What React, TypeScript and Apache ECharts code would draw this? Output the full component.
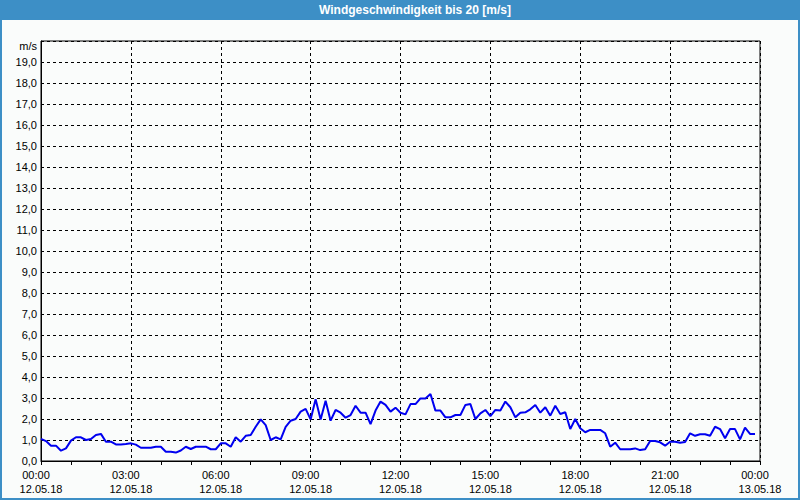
import React, { useEffect, useRef } from "react";
import * as echarts from "echarts";

const TITLE = "Windgeschwindigkeit bis 20 [m/s]";
const UNIT = "m/s";
// 10-minute samples from 12.05.18 00:00 to 23:50 (m/s)
const windSpeed: number[] = [
  1.05, 0.95, 0.73, 0.73, 0.49, 0.6, 0.97, 1.13, 1.13, 1.0,
  1.05, 1.24, 1.29, 0.92, 0.92, 0.79, 0.79, 0.81, 0.84, 0.78,
  0.63, 0.63, 0.63, 0.68, 0.68, 0.44, 0.44, 0.4, 0.5, 0.68,
  0.57, 0.68, 0.68, 0.68, 0.56, 0.56, 0.84, 0.84, 0.68, 1.13,
  0.92, 1.2, 1.24, 1.63, 1.98, 1.71, 1.0, 1.13, 1.03, 1.63,
  1.92, 2.0, 2.35, 2.48, 1.98, 2.94, 1.98, 2.87, 1.92, 2.43,
  2.3, 2.06, 2.19, 2.63, 2.3, 2.3, 1.76, 2.4, 2.83, 2.67,
  2.35, 2.54, 2.3, 2.22, 2.71, 2.71, 2.98, 2.98, 3.19, 2.4,
  2.4, 2.08, 2.08, 2.19, 2.19, 2.67, 2.71, 2.0, 2.27, 2.43,
  2.14, 2.43, 2.4, 2.83, 2.56, 2.08, 2.3, 2.32, 2.46, 2.67,
  2.3, 2.56, 2.16, 2.63, 2.24, 2.32, 1.52, 2.0, 1.56, 1.37,
  1.48, 1.48, 1.48, 1.32, 0.68, 0.87, 0.56, 0.56, 0.56, 0.6,
  0.52, 0.56, 0.95, 0.95, 0.89, 0.73, 0.92, 0.92, 0.87, 0.9,
  1.32, 1.2, 1.27, 1.27, 1.2, 1.63, 1.52, 1.08, 1.52, 1.52,
  1.03, 1.59, 1.29, 1.29,
];
const STEP_MIN = 10;
const X_MAX_MIN = 1440;
const Y_MAX = 20;

const FONT = "Liberation Sans";
const BLUE = "#3d8fc6";

function pad(n: number) {
  return n < 10 ? "0" + n : "" + n;
}

export default function App() {
  const ref = useRef<HTMLDivElement>(null);
  useEffect(() => {
    if (!ref.current) return;
    const chart = echarts.init(ref.current, null, { renderer: "svg" });
    const data = windSpeed.map((v, i) => [i * STEP_MIN, v]);
    chart.setOption({
      animation: false,
      backgroundColor: "#fafcfb",
      grid: {
        left: 41,
        top: 41,
        right: 40,
        bottom: 39,
        show: true,
        borderColor: "#000",
        borderWidth: 1,
        backgroundColor: "transparent",
      },
      xAxis: {
        type: "value",
        min: 0,
        max: X_MAX_MIN,
        interval: 180,
        axisLine: { lineStyle: { color: "#000", width: 1 } },
        axisTick: { show: true, length: 4, lineStyle: { color: "#000" } },
        minorTick: { show: true, splitNumber: 3, length: 4, lineStyle: { color: "#000" } },
        splitLine: { show: true, lineStyle: { color: "#000", type: [3, 3], width: 1 } },
        axisLabel: {
          margin: 7,
          fontFamily: FONT,
          fontSize: 11,
          color: "#000",
          lineHeight: 14,
          formatter: (v: number) => {
            const day = v >= 1440 ? "13.05.18" : "12.05.18";
            const m = v % 1440;
            const t = pad(Math.floor(m / 60)) + ":" + pad(m % 60);
            return "{t|" + t + "}\n{d|" + day + "}";
          },
          rich: {
            t: { fontFamily: FONT, fontSize: 11, color: "#000", padding: [0, 10, 0, 0], lineHeight: 14 },
            d: { fontFamily: FONT, fontSize: 11, color: "#000", lineHeight: 14 },
          },
        },
      },
      yAxis: {
        type: "value",
        min: 0,
        max: Y_MAX,
        interval: 1,
        axisLine: { show: true, lineStyle: { color: "#000", width: 1 } },
        axisTick: { show: false },
        splitLine: { show: true, lineStyle: { color: "#000", type: [3, 3], width: 1 } },
        axisLabel: {
          margin: 4,
          fontFamily: FONT,
          fontSize: 11,
          color: "#000",
          formatter: (v: number) => (v >= Y_MAX ? "" : v.toFixed(1).replace(".", ",")),
        },
      },
      series: [
        {
          type: "line",
          data,
          showSymbol: false,
          symbol: "none",
          lineStyle: { color: "#0000f0", width: 2 },
          z: 5,
        },
      ],
      graphic: [
        {
          type: "rect",
          z: 100,
          shape: { x: 1, y: 1, width: 798, height: 498 },
          style: { fill: "none", stroke: BLUE, lineWidth: 2 },
          silent: true,
        },
        {
          type: "rect",
          z: 100,
          shape: { x: 0, y: 0, width: 800, height: 20 },
          style: { fill: BLUE },
          silent: true,
        },
        {
          type: "text",
          z: 101,
          x: 415,
          y: 10,
          style: {
            text: TITLE,
            fill: "#fff",
            font: "bold 12px " + FONT,
            align: "center",
            verticalAlign: "middle",
          },
          silent: true,
        },
        {
          type: "text",
          z: 101,
          x: 37,
          y: 46,
          style: {
            text: UNIT,
            fill: "#000",
            font: "11px " + FONT,
            align: "right",
            verticalAlign: "middle",
          },
          silent: true,
        },
      ],
    });
    return () => chart.dispose();
  }, []);
  return (
    <div
      ref={ref}
      style={{ position: "fixed", left: 0, top: 0, width: 800, height: 500 }}
    />
  );
}
